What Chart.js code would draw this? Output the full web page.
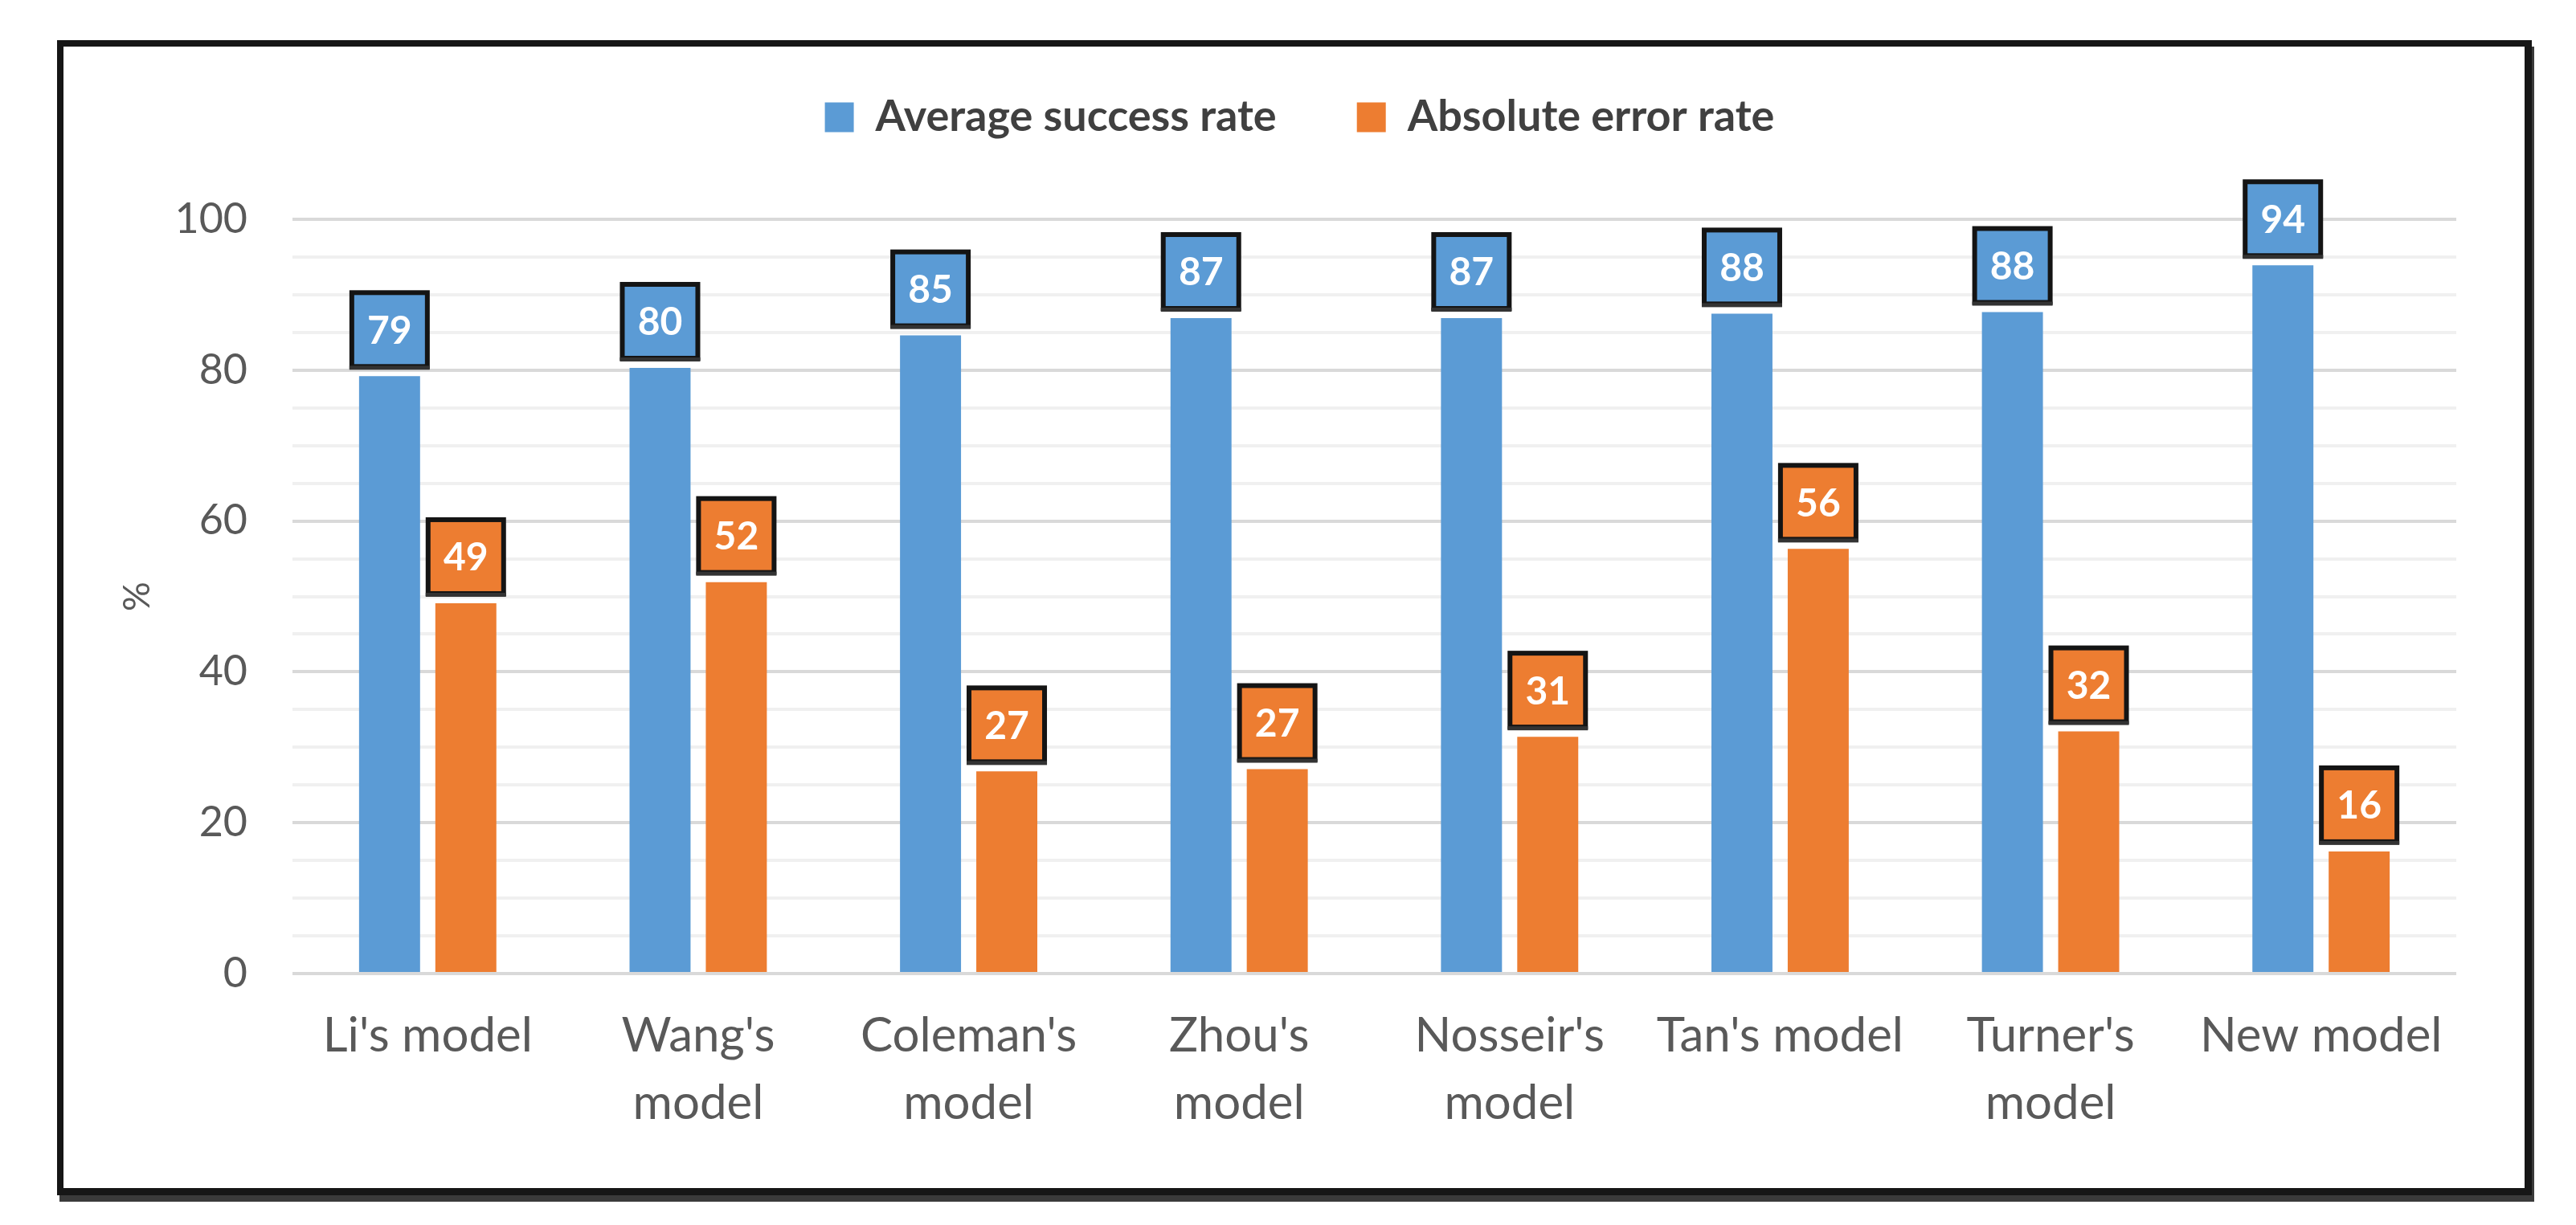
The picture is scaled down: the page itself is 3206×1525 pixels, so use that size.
<!DOCTYPE html>
<html>
<head>
<meta charset="utf-8">
<script src="https://cdn.jsdelivr.net/npm/chart.js@4"></script>
<style>
  html, body { margin: 0; padding: 0; background: #fff; }
  body { width: 3206px; height: 1525px; position: relative; overflow: hidden; }
  #moldura {
    position: absolute; left: 71px; top: 50px; width: 3063px; height: 1421px;
    border-style: solid; border-color: #161616; border-width: 8px 9px 9px 8px;
    box-shadow: 3px 8px 0 #3a3a3a;
  }
  #caixa { position: absolute; left: 80px; top: 60px; width: 3058px; height: 1410px; }
</style>
</head>
<body>
<div id="moldura"></div>
<div id="caixa"><canvas id="graf"></canvas></div>
<script>
//---------------------------------------------------------------------------
//                         DADOS

const modelos = [
    "Li's model",
    ["Wang's", "model"],
    ["Coleman's", "model"],
    ["Zhou's", "model"],
    ["Nosseir's", "model"],
    "Tan's model",
    ["Turner's", "model"],
    "New model"
];
const sucesso_medio = [79.2, 80.3, 84.6, 86.9, 86.9, 87.5, 87.7, 93.9];
const erro_absoluto = [49.1, 51.9, 26.8, 27.1, 31.4, 56.3, 32.1, 16.2];

const azul = '#5B9BD5';
const laranja = '#ED7D31';
const fonte = "Lato, 'Open Sans', sans-serif";

//---------------------------------------------------------------------------
//                  RÓTULOS EM CAIXA (acima das barras)

const rotulos = {
    id: 'rotulos',
    afterDatasetsDraw(chart) {
        const ctx = chart.ctx;
        chart.data.datasets.forEach(function (ds, i) {
            const meta = chart.getDatasetMeta(i);
            meta.data.forEach(function (bar, j) {
                const w = 94, h = 92, gap = 12;
                const x = bar.x - w / 2;
                const y = bar.y - gap - h;
                ctx.save();
                ctx.fillStyle = ds.backgroundColor;
                ctx.fillRect(x, y, w, h);
                ctx.lineWidth = 6;
                ctx.strokeStyle = '#141414';
                ctx.strokeRect(x, y, w, h);
                ctx.fillStyle = '#333';
                ctx.fillRect(x - 3, y + h - 1, w + 6, 5);
                ctx.fillStyle = '#fff';
                ctx.font = 'bold 48px ' + fonte;
                ctx.textAlign = 'center';
                ctx.textBaseline = 'middle';
                ctx.fillText(String(Math.round(ds.data[j])), bar.x, y + h / 2 + 2);
                ctx.restore();
            });
        });
    }
};

// altura e posição da legenda
const margemLegenda = {
    id: 'margemLegenda',
    beforeInit(chart) {
        const fit = chart.legend.fit;
        chart.legend.fit = function () {
            fit.bind(chart.legend)();
            this.height = 213;
        };
    },
    afterLayout(chart) {
        const lg = chart.legend;
        lg.top -= 41; lg.bottom -= 41;
        lg.left += 49; lg.right += 49;
    }
};

//---------------------------------------------------------------------------
//                          GRÁFICO

const grafico = new Chart(document.getElementById('graf'), {
    type: 'bar',
    data: {
        labels: modelos,
        datasets: [{
            label: 'Average success rate',
            data: sucesso_medio,
            backgroundColor: azul,
            categoryPercentage: 0.564,
            barPercentage: 0.8
        }, {
            label: 'Absolute error rate',
            data: erro_absoluto,
            backgroundColor: laranja,
            categoryPercentage: 0.564,
            barPercentage: 0.8
        }]
    },
    options: {
        responsive: true,
        maintainAspectRatio: false,
        animation: false,
        layout: {
            padding: { left: 0, right: 81, top: 0, bottom: 0 }
        },
        plugins: {
            tooltip: { enabled: false },
            legend: {
                display: true,
                position: 'top',
                labels: {
                    boxWidth: 36,
                    boxHeight: 37,
                    padding: 100,
                    color: '#404040',
                    font: { family: fonte, size: 54, weight: 'bold' }
                }
            }
        },
        scales: {
            x: {
                grid: { display: false },
                border: { display: false },
                ticks: {
                    color: '#595959',
                    padding: 28,
                    autoSkip: false,
                    maxRotation: 0,
                    font: { family: fonte, size: 60, lineHeight: 1.4 }
                },
                afterFit(scale) { scale.height = 258; }
            },
            y: {
                min: 0,
                max: 100,
                border: { display: false },
                grid: {
                    drawTicks: false,
                    lineWidth: 4,
                    color: function (c) {
                        return c.tick.value % 20 === 0 ? '#d9d9d9' : '#f0f0f0';
                    }
                },
                ticks: {
                    stepSize: 5,
                    autoSkip: false,
                    padding: 56,
                    color: '#595959',
                    font: { family: fonte, size: 52 },
                    callback: function (v) { return v % 20 === 0 ? v : ''; }
                },
                title: {
                    display: true,
                    text: '%',
                    color: '#595959',
                    padding: { top: 64, bottom: 0 },
                    font: { family: fonte, size: 46 }
                },
                afterFit(scale) { scale.width = 284; }
            }
        }
    },
    plugins: [rotulos, margemLegenda]
});
</script>
</body>
</html>
